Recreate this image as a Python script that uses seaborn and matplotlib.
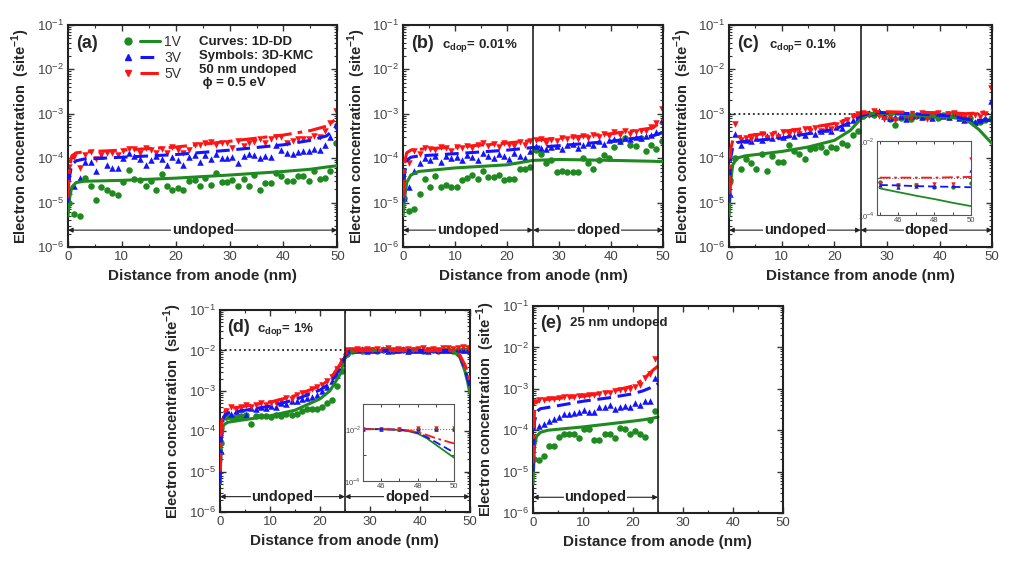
import numpy as np
import pandas as pd
import matplotlib
matplotlib.use("Agg")
import matplotlib.pyplot as plt
import seaborn as sns
from matplotlib.lines import Line2D
from matplotlib.legend_handler import HandlerTuple
from matplotlib.ticker import MultipleLocator

# ---- data (values are log10 of electron concentration, site^-1) ----
KMC_X = [0.2, 1.2, 2.2, 3.2, 4.2, 5.2, 6.2, 7.2, 8.2, 9.3, 10.3, 11.3, 12.3, 13.3, 14.4,
         15.4, 16.4, 17.4, 18.4, 19.4, 20.4, 21.4, 22.4, 23.5, 24.5, 25.5, 26.5, 27.5, 28.5,
         29.5, 30.5, 31.5, 32.6, 33.6, 34.6, 35.6, 36.6, 37.6, 38.6, 39.6, 40.6, 41.7, 42.7,
         43.7, 44.7, 45.7, 46.7, 47.7, 48.7, 49.7]
VOLTAGES = ["1V", "3V", "5V"]

# (a) 50 nm undoped
A_KMC_1V = [-5.0, -5.25, -5.3, -4.45, -4.63, -4.95, -4.66, -4.72, -4.78, -4.83, -4.53, -4.27, -4.47,
            -4.5, -4.63, -4.52, -4.71, -4.36, -4.63, -4.72, -4.68, -4.72, -4.52, -4.5, -4.63, -4.45,
            -4.61, -4.33, -4.53, -4.53, -4.5, -4.63, -4.47, -4.63, -4.38, -4.71, -4.56, -4.56, -4.33,
            -4.4, -4.52, -4.52, -4.41, -4.41, -4.52, -4.3, -4.46, -4.44, -4.3, -3.65]
A_KMC_3V = [-4.75, -4.62, -4.45, -4.08, -4.08, -4.29, -3.95, -4.16, -4.23, -4.23, -4.0, -3.89, -3.95,
            -4.03, -4.16, -4.05, -3.95, -4.01, -4.16, -3.97, -4.05, -4.16, -3.97, -3.93, -4.08, -3.93,
            -4.03, -3.9, -3.99, -3.99, -3.97, -4.11, -3.95, -3.91, -3.93, -3.99, -3.95, -3.97, -3.71,
            -3.82, -3.89, -3.91, -3.86, -3.83, -3.83, -3.8, -3.82, -3.71, -3.52, -3.23]
A_KMC_5V = [-4.2, -3.97, -4.23, -3.93, -3.86, -4.03, -3.93, -3.88, -3.89, -3.93, -3.85, -3.8, -3.8,
            -3.89, -3.78, -3.82, -3.89, -3.8, -3.88, -3.76, -3.82, -3.89, -3.82, -3.71, -3.71, -3.67,
            -3.63, -3.7, -3.66, -3.67, -3.78, -3.62, -3.72, -3.66, -3.63, -3.58, -3.67, -3.58, -3.53,
            -3.52, -3.67, -3.62, -3.58, -3.58, -3.56, -3.5, -3.53, -3.39, -3.2, -2.95]
A_DD_X = [0.0, 0.3, 0.7, 1.5, 3, 10, 20, 30, 40, 45, 48, 50]
A_DD_1V = [-5.3, -4.9, -4.65, -4.55, -4.52, -4.5, -4.45, -4.38, -4.3, -4.25, -4.2, -4.17]
A_DD_3V = [-5.0, -4.4, -4.15, -4.06, -4.02, -3.98, -3.92, -3.82, -3.7, -3.6, -3.5, -3.3]
A_DD_5V = [-4.9, -4.2, -3.95, -3.88, -3.86, -3.82, -3.75, -3.62, -3.48, -3.38, -3.28, -3.1]

# (b) c_dop = 0.01 %
B_KMC_1V = [-4.9, -5.19, -5.15, -4.8, -4.46, -4.66, -4.4, -4.65, -4.6, -4.65, -4.66, -4.5, -4.45,
            -4.38, -4.47, -4.3, -4.43, -4.42, -4.39, -4.5, -4.47, -4.48, -4.24, -4.25, -4.2, -3.82,
            -3.9, -4.12, -4.05, -4.31, -4.28, -4.31, -4.31, -4.31, -4.0, -4.1, -4.24, -4.05, -3.93,
            -4.0, -3.75, -3.62, -3.55, -3.7, -3.72, -3.55, -3.85, -3.7, -3.8, -3.62]
B_KMC_3V = [-4.9, -4.66, -4.3, -4.1, -4.0, -4.05, -3.95, -4.08, -3.95, -4.0, -3.97, -4.05, -3.93,
            -3.98, -4.05, -3.88, -3.95, -4.0, -3.9, -3.95, -4.02, -3.88, -3.95, -4.0, -3.85, -3.72,
            -3.78, -3.8, -3.75, -3.72, -3.8, -3.7, -3.68, -3.78, -3.7, -3.65, -3.7, -3.62, -3.68,
            -3.6, -3.58, -3.62, -3.55, -3.58, -3.52, -3.55, -3.5, -3.48, -3.42, -3.15]
B_KMC_5V = [-4.7, -4.1, -3.85, -3.9, -3.78, -3.8, -3.82, -3.75, -3.78, -3.85, -3.75, -3.78, -3.72,
            -3.78, -3.7, -3.65, -3.72, -3.68, -3.75, -3.66, -3.7, -3.72, -3.64, -3.7, -3.62, -3.6,
            -3.58, -3.65, -3.6, -3.62, -3.55, -3.58, -3.52, -3.56, -3.5, -3.55, -3.48, -3.52, -3.45,
            -3.5, -3.42, -3.48, -3.4, -3.45, -3.42, -3.4, -3.38, -3.3, -3.2, -2.9]
B_DD_X = [0.0, 0.3, 0.7, 1.5, 3, 10, 20, 25, 30, 40, 48, 50]
B_DD_1V = [-5.3, -4.9, -4.55, -4.38, -4.3, -4.22, -4.15, -4.05, -4.03, -4.05, -4.07, -4.08]
B_DD_3V = [-5.0, -4.35, -4.05, -3.98, -3.95, -3.9, -3.82, -3.76, -3.72, -3.62, -3.5, -3.42]
B_DD_5V = [-4.9, -4.1, -3.88, -3.82, -3.8, -3.75, -3.66, -3.6, -3.55, -3.45, -3.32, -3.15]

# (c) c_dop = 0.1 %
C_KMC_1V = [-4.5, -4.0, -4.24, -4.02, -4.12, -4.24, -3.91, -4.28, -3.95, -4.08, -4.08, -3.71, -3.85,
            -3.9, -4.02, -3.79, -3.78, -3.74, -3.87, -3.74, -3.77, -3.66, -3.7, -3.48, -3.4, -3.05,
            -3.0, -3.02, -2.98, -3.05, -3.12, -3.25, -3.1, -3.05, -3.12, -3.05, -3.08, -3.0, -3.05,
            -3.1, -3.02, -3.08, -3.0, -3.05, -3.1, -3.1, -3.2, -3.18, -3.15, -3.12]
C_KMC_3V = [-4.8, -3.45, -3.7, -3.6, -3.62, -3.55, -3.6, -3.5, -3.55, -3.48, -3.52, -3.45, -3.5,
            -3.42, -3.48, -3.4, -3.45, -3.38, -3.35, -3.4, -3.3, -3.32, -3.22, -3.15, -3.1, -3.0,
            -2.98, -2.97, -2.95, -3.05, -3.1, -3.08, -3.05, -3.12, -3.05, -3.02, -3.08, -3.05, -3.1,
            -3.0, -3.05, -3.08, -3.02, -3.1, -3.15, -3.12, -3.18, -3.15, -3.1, -2.72]
C_KMC_5V = [-4.6, -3.24, -3.6, -3.55, -3.58, -3.5, -3.45, -3.55, -3.48, -3.52, -3.42, -3.45, -3.38,
            -3.45, -3.35, -3.38, -3.32, -3.4, -3.3, -3.35, -3.25, -3.2, -3.15, -3.05, -3.0, -2.98,
            -3.02, -2.95, -3.05, -3.12, -3.08, -3.15, -3.0, -3.02, -3.1, -3.05, -2.98, -3.12, -3.02,
            -2.98, -3.05, -3.0, -2.98, -3.05, -3.1, -3.05, -3.02, -3.08, -3.0, -2.43]
C_DD_X = [0.0, 0.3, 0.7, 1.5, 3, 10, 15, 20, 23, 25, 27, 28, 35, 42, 45, 47.5, 50]
C_DD_1V = [-5.3, -4.5, -4.15, -4.0, -3.95, -3.85, -3.75, -3.6, -3.38, -3.12, -3.0, -2.98, -3.03,
           -3.08, -3.13, -3.36, -3.68]
C_DD_3V = [-5.0, -4.0, -3.75, -3.65, -3.62, -3.55, -3.45, -3.35, -3.2, -3.05, -2.98, -2.97, -3.0,
           -3.05, -3.12, -3.15, -3.15]
C_DD_5V = [-4.8, -3.8, -3.6, -3.52, -3.5, -3.4, -3.32, -3.22, -3.1, -3.0, -2.96, -2.95, -2.97,
           -2.98, -3.0, -2.98, -2.92]

# (c) inset, 45-50 nm
INSET_X = [45, 46, 47, 48, 49, 50]
CI_KMC_1V = [-3.1, -3.18, -3.2, -3.23, -3.23, -3.13]
CI_KMC_3V = [-3.19, -3.25, -3.22, -3.22, -3.2, -2.78]
CI_KMC_5V = [-3.17, -3.19, -3.18, -3.17, -3.15, -2.49]
CI_DD_1V = [-3.28, -3.38, -3.48, -3.57, -3.67, -3.76]
CI_DD_3V = [-3.19, -3.2, -3.22, -3.23, -3.24, -3.25]
CI_DD_5V = [-2.99, -2.99, -2.99, -2.99, -2.98, -2.97]

# (d) c_dop = 1 %
D_KMC_1V = [-4.3, -3.64, -3.65, -3.64, -3.62, -3.6, -3.81, -3.62, -3.62, -3.62, -3.64, -3.6, -3.62,
            -3.58, -3.6, -3.58, -3.5, -3.46, -3.44, -3.44, -3.4, -3.3, -3.23, -2.88, -2.5, -2.08,
            -2.02, -1.98, -2.02, -2.0, -1.98, -2.02, -2.0, -1.97, -2.01, -2.0, -1.98, -2.02, -2.0,
            -1.99, -2.01, -1.98, -2.0, -2.02, -1.99, -2.0, -2.01, -1.98, -2.0, -2.0]
D_KMC_3V = [-4.5, -3.5, -3.58, -3.5, -3.45, -3.6, -3.42, -3.45, -3.4, -3.42, -3.38, -3.4, -3.3,
            -3.32, -3.25, -3.25, -3.2, -3.18, -3.15, -3.1, -3.0, -2.9, -2.75, -2.6, -2.3, -2.02,
            -1.98, -2.0, -1.97, -2.02, -1.99, -2.0, -1.97, -2.01, -1.98, -2.0, -1.97, -2.02, -1.99,
            -2.0, -1.98, -2.01, -1.97, -2.0, -1.99, -1.98, -2.0, -1.97, -1.99, -1.98]
D_KMC_5V = [-4.0, -3.5, -3.4, -3.45, -3.4, -3.35, -3.4, -3.35, -3.3, -3.35, -3.3, -3.3, -3.25,
            -3.18, -3.2, -3.1, -3.05, -3.1, -2.95, -2.9, -2.85, -2.75, -2.65, -2.45, -2.25, -1.98,
            -2.0, -1.96, -1.99, -1.97, -2.0, -1.96, -1.98, -1.95, -1.99, -1.97, -2.0, -1.96, -1.98,
            -1.97, -1.95, -1.99, -1.96, -1.98, -1.95, -1.94, -1.96, -1.93, -1.92, -1.93]
D_DD_X = [0.0, 0.3, 0.7, 1.5, 3, 10, 15, 20, 22, 24, 25, 26, 28, 46, 47, 48, 49, 49.6, 50]
D_DD_1V = [-5.3, -4.2, -3.85, -3.78, -3.75, -3.62, -3.48, -3.2, -3.0, -2.6, -2.2, -2.05, -2.0,
           -2.0, -2.05, -2.17, -2.5, -2.8, -3.05]
D_DD_3V = [-5.3, -4.0, -3.65, -3.55, -3.52, -3.38, -3.22, -2.98, -2.82, -2.45, -2.15, -2.02, -2.0,
           -2.0, -2.03, -2.12, -2.45, -2.7, -2.9]
D_DD_5V = [-5.0, -3.8, -3.55, -3.45, -3.42, -3.28, -3.12, -2.88, -2.72, -2.35, -2.1, -2.02, -2.0,
           -2.0, -2.02, -2.12, -2.35, -2.55, -2.8]

# (d) inset, 45-50 nm
DI_KMC_1V = [-2.0, -2.0, -2.0, -2.0, -2.0, -2.0]
DI_KMC_3V = [-2.0, -2.0, -2.0, -1.98, -1.98, -1.98]
DI_KMC_5V = [-2.0, -1.99, -1.99, -1.95, -1.96, -1.95]
DI_DD_X = [45, 46, 47, 47.5, 48, 48.5, 49, 49.5, 50]
DI_DD_1V = [-2.0, -2.0, -2.03, -2.08, -2.17, -2.35, -2.6, -2.85, -3.1]
DI_DD_3V = [-2.0, -2.0, -2.02, -2.06, -2.14, -2.3, -2.5, -2.7, -2.9]
DI_DD_5V = [-2.0, -2.0, -2.02, -2.05, -2.12, -2.22, -2.35, -2.45, -2.55]

# (e) 25 nm undoped
E_KMC_1V = [-4.69, -4.73, -4.62, -4.39, -4.39, -4.16, -4.08, -4.1, -4.1, -4.2, -3.98, -3.98, -4.23,
            -4.23, -4.1, -4.08, -4.2, -3.94, -3.98, -4.1, -4.02, -4.1, -4.16, -3.76, -3.53]
E_KMC_3V = [-4.2, -3.9, -3.85, -3.78, -3.72, -3.68, -3.62, -3.6, -3.58, -3.55, -3.5, -3.55, -3.55,
            -3.45, -3.45, -3.4, -3.48, -3.45, -3.42, -3.45, -3.35, -3.4, -3.3, -3.3, -2.73]
E_KMC_5V = [-3.31, -3.28, -3.28, -3.25, -3.24, -3.22, -3.2, -3.2, -3.19, -3.18, -3.17, -3.15, -3.14,
            -3.12, -3.1, -3.1, -3.06, -3.04, -3.02, -3.0, -2.95, -2.9, -2.75, -2.65, -2.27]
E_DD_X = [0.0, 0.3, 0.7, 1.5, 3, 10, 15, 20, 22, 24, 25]
E_DD_1V = [-5.3, -4.4, -4.15, -4.05, -4.0, -3.92, -3.85, -3.78, -3.75, -3.71, -3.68]
E_DD_3V = [-5.0, -3.8, -3.55, -3.48, -3.45, -3.3, -3.22, -3.12, -3.05, -2.95, -2.88]
E_DD_5V = [-4.8, -3.5, -3.32, -3.28, -3.25, -3.18, -3.08, -2.93, -2.78, -2.55, -2.45]

# ---- styling ----
COLORS = {"1V": "#1f8a1f", "3V": "#1414ff", "5V": "#ff1414"}
MARKERS = {"1V": "o", "3V": "^", "5V": "v"}
LINESTYLES = {"1V": "-", "3V": (0, (4.5, 2.2)), "5V": (0, (6, 2, 1.5, 2))}

sns.set_theme(style="ticks")
plt.rcParams["font.family"] = ["Liberation Sans", "DejaVu Sans"]
plt.rcParams["mathtext.fontset"] = "custom"
plt.rcParams["mathtext.rm"] = "Liberation Sans"
plt.rcParams["mathtext.bf"] = "Liberation Sans:bold"
plt.rcParams["axes.edgecolor"] = "#222222"

fig = plt.figure(figsize=(10.24, 5.64), dpi=100)
fig.patch.set_facecolor("white")


def draw_series(ax, kmc_x, kmc, dd_x, dd, small=False):
    for volt, pts, curve in zip(VOLTAGES, kmc, dd):
        sns.lineplot(x=dd_x, y=10.0 ** np.array(curve), ax=ax, color=COLORS[volt],
                     linestyle=LINESTYLES[volt], linewidth=1.3 if small else 2.2,
                     estimator=None, sort=False, zorder=3, legend=False)
        sns.scatterplot(x=kmc_x, y=10.0 ** np.array(pts), ax=ax, color=COLORS[volt],
                        marker=MARKERS[volt], s=10 if small else 22, linewidth=0,
                        zorder=2, legend=False)


def style_axes(ax):
    ax.set_yscale("log")
    ax.set_ylim(1e-6, 1e-1)
    ax.set_xlim(0, 50)
    ax.set_xticks([0, 10, 20, 30, 40, 50])
    ax.xaxis.set_minor_locator(MultipleLocator(5))
    ax.tick_params(which="both", direction="in", top=True, right=True, color="#333333")
    ax.tick_params(which="major", length=4, width=1, labelsize=9.5, labelcolor="#444444", pad=3)
    ax.tick_params(which="minor", length=2, width=0.8)
    for sp in ax.spines.values():
        sp.set_linewidth(1.5)
    ax.set_xlabel("Distance from anode (nm)", fontsize=11, fontweight="bold", labelpad=4)
    ax.set_ylabel(r"Electron concentration  (site$^{\mathbf{-1}}$)", fontsize=10.5,
                  fontweight="bold", labelpad=3)


def region(ax, x0, x1, label):
    y = 2.4e-6
    ax.annotate("", xy=(x0, y), xytext=(x1, y),
                arrowprops=dict(arrowstyle="<|-|>", color="#222222", lw=0.8,
                                mutation_scale=7, shrinkA=0, shrinkB=0))
    ax.text((x0 + x1) / 2, y, label, ha="center", va="center", fontsize=10.5,
            fontweight="bold", color="#222222",
            bbox=dict(facecolor="white", edgecolor="none", pad=0.5))


def panel_title(ax, tag, extra=None):
    ax.text(0.03, 0.955, tag, transform=ax.transAxes, fontsize=13, fontweight="bold",
            va="top", ha="left")
    if extra:
        ax.text(0.15, 0.945, extra, transform=ax.transAxes, fontsize=9.5, fontweight="bold",
                va="top", ha="left")


def style_inset(ax, xlim, ylim, dotted):
    ax.set_yscale("log")
    ax.set_xlim(*xlim)
    ax.set_ylim(*ylim)
    ax.axhline(dotted, color="#777777", ls=":", lw=0.8, zorder=1)
    ax.set_xticks([46, 48, 50])
    ax.set_yticks([1e-4, 1e-3, 1e-2])
    ax.set_yticklabels([r"$10^{-4}$", "", r"$10^{-2}$"])
    ax.yaxis.set_minor_locator(matplotlib.ticker.NullLocator())
    ax.xaxis.set_minor_locator(MultipleLocator(1))
    ax.tick_params(which="both", direction="in", top=True, right=True, labelsize=5.5,
                   length=2, width=0.6, pad=1.5, labelcolor="#444444")
    for sp in ax.spines.values():
        sp.set_linewidth(0.8)
        sp.set_color("#555555")
    ax.set_facecolor("white")


# (a)
ax_a = fig.add_axes([0.0664, 0.562, 0.263, 0.394])
draw_series(ax_a, KMC_X, [A_KMC_1V, A_KMC_3V, A_KMC_5V], A_DD_X, [A_DD_1V, A_DD_3V, A_DD_5V])
style_axes(ax_a)
region(ax_a, 0, 50, "undoped")
panel_title(ax_a, "(a)")
handles = [(Line2D([], [], color=COLORS[v], marker=MARKERS[v], ls="none", markersize=5),
            Line2D([], [], color=COLORS[v], ls=LINESTYLES[v], lw=2.2)) for v in VOLTAGES]
ax_a.legend(handles, VOLTAGES, handler_map={tuple: HandlerTuple(ndivide=None, pad=0.2)},
            loc="upper left", bbox_to_anchor=(0.15, 1.0), frameon=False, handlelength=3.0,
            fontsize=10, labelspacing=0.15, handletextpad=0.3, borderaxespad=0.3,
            labelcolor="#333333")
ax_a.text(0.485, 0.95, "Curves: 1D-DD\nSymbols: 3D-KMC\n50 nm undoped\n \u03d5 = 0.5 eV",
          transform=ax_a.transAxes, fontsize=9.5, fontweight="bold", va="top", ha="left",
          linespacing=1.2, color="#222222")

# (b)
ax_b = fig.add_axes([0.3936, 0.562, 0.254, 0.394])
draw_series(ax_b, KMC_X, [B_KMC_1V, B_KMC_3V, B_KMC_5V], B_DD_X, [B_DD_1V, B_DD_3V, B_DD_5V])
style_axes(ax_b)
ax_b.axvline(25, color="#222222", lw=1.2, zorder=4)
region(ax_b, 0, 25, "undoped")
region(ax_b, 25, 50, "doped")
panel_title(ax_b, "(b)", r"c$_{\mathbf{dop}}$= 0.01%")

# (c)
ax_c = fig.add_axes([0.712, 0.562, 0.257, 0.394])
ax_c.axhline(1e-3, color="#222222", ls=":", lw=1.3, zorder=1)
draw_series(ax_c, KMC_X, [C_KMC_1V, C_KMC_3V, C_KMC_5V], C_DD_X, [C_DD_1V, C_DD_3V, C_DD_5V])
style_axes(ax_c)
ax_c.axvline(25, color="#222222", lw=1.2, zorder=4)
region(ax_c, 0, 25, "undoped")
region(ax_c, 25, 50, "doped")
panel_title(ax_c, "(c)", r"c$_{\mathbf{dop}}$= 0.1%")

ins_c = fig.add_axes([0.8564, 0.6188, 0.0918, 0.1312])
draw_series(ins_c, INSET_X, [CI_KMC_1V, CI_KMC_3V, CI_KMC_5V], INSET_X,
            [CI_DD_1V, CI_DD_3V, CI_DD_5V], small=True)
style_inset(ins_c, (44.85, 50.0), (1e-4, 1e-2), 1e-3)

# (d)
ax_d = fig.add_axes([0.2148, 0.0922, 0.244, 0.358])
ax_d.axhline(1e-2, color="#222222", ls=":", lw=1.3, zorder=1)
draw_series(ax_d, KMC_X, [D_KMC_1V, D_KMC_3V, D_KMC_5V], D_DD_X, [D_DD_1V, D_DD_3V, D_DD_5V])
style_axes(ax_d)
ax_d.axvline(25, color="#222222", lw=1.2, zorder=4)
region(ax_d, 0, 25, "undoped")
region(ax_d, 25, 50, "doped")
panel_title(ax_d, "(d)", r"c$_{\mathbf{dop}}$= 1%")

ins_d = fig.add_axes([0.3545, 0.1470, 0.0889, 0.1360])
draw_series(ins_d, INSET_X, [DI_KMC_1V, DI_KMC_3V, DI_KMC_5V], DI_DD_X,
            [DI_DD_1V, DI_DD_3V, DI_DD_5V], small=True)
style_inset(ins_d, (45.0, 50.0), (1e-4, 0.09), 1e-2)

# (e)
ax_e = fig.add_axes([0.5205, 0.0904, 0.244, 0.367])
draw_series(ax_e, KMC_X[:25], [E_KMC_1V, E_KMC_3V, E_KMC_5V], E_DD_X, [E_DD_1V, E_DD_3V, E_DD_5V])
style_axes(ax_e)
ax_e.axvline(25, color="#222222", lw=1.2, zorder=4)
region(ax_e, 0, 25, "undoped")
panel_title(ax_e, "(e)", "25 nm undoped")

fig.savefig("out.png", dpi=100, facecolor="white")
